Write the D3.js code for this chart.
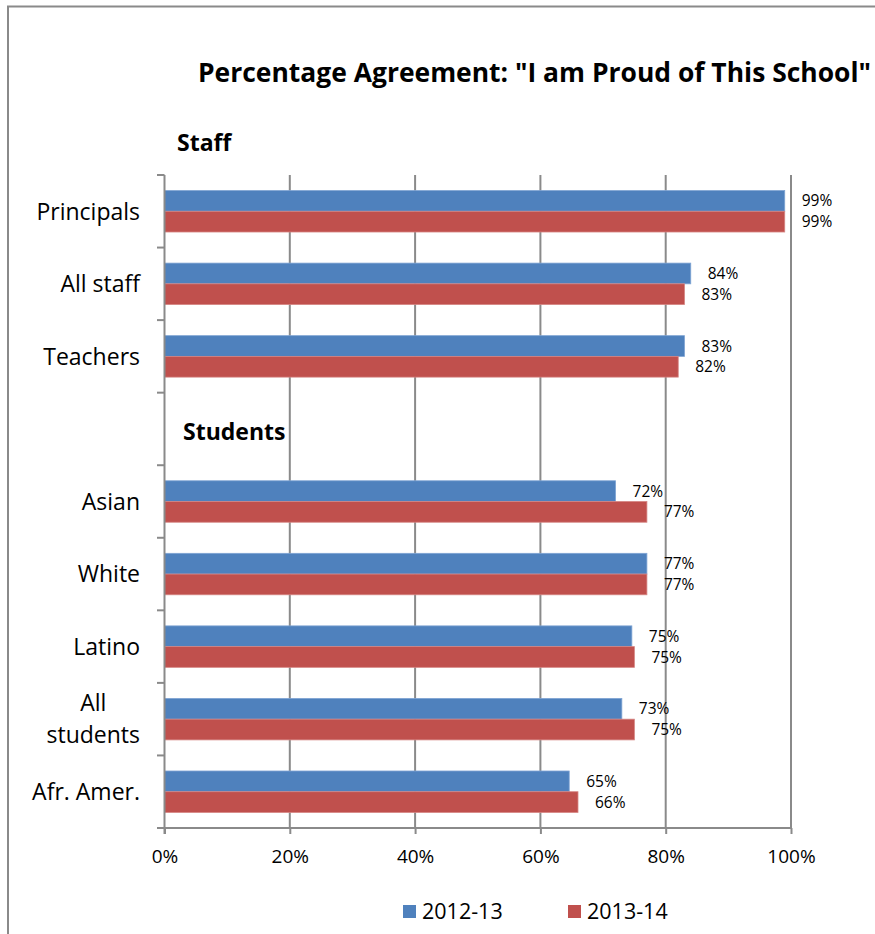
<!DOCTYPE html>
<html><head><meta charset="utf-8">
<script src="https://cdn.jsdelivr.net/npm/d3@7"></script>
<style>
body{margin:0;background:#fff}
svg{display:block}
text{font-family:"Open Sans",sans-serif;fill:#000}
</style>
</head><body>
<script>
// ---- data ----
const categories = ["Principals","All staff","Teachers","","Asian","White","Latino","All\nstudents","Afr. Amer."];
const series = ["2012-13","2013-14"];
const values2012 = [99,84,83,null,72,77,74.6,73,64.6];
const values2013 = [99,83,82,null,77,77,75,75,66];
const xTicks = [0,20,40,60,80,100];
const colors = ["#4F81BD","#C0504D"];
const strokes = ["#7FA4D3","#D58583"];
const titleText = 'Percentage Agreement: "I am Proud of This School"';
const groupLabels = [{text:"Staff", x:177, y:151},{text:"Students", x:183, y:440}];

const W = 875, H = 934;
const svg = d3.select("body").append("svg").attr("width",W).attr("height",H);

// border
svg.append("rect").attr("x",8).attr("y",6.5).attr("width",W+20).attr("height",H+20)
  .attr("fill","none").attr("stroke","#8a8a8a").attr("stroke-width",2);

// title
svg.append("text").attr("x",198).attr("y",82).attr("font-size",26).attr("font-weight","bold")
  .attr("textLength",673).attr("lengthAdjust","spacingAndGlyphs").text(titleText);

// scales
const x = d3.scaleLinear().domain([0,100]).range([164.5,791]);
const y = d3.scaleBand().domain(d3.range(categories.length)).range([175,828]).padding(0);
const sub = d3.scaleBand().domain(series).range([0,y.bandwidth()]).paddingInner(0).paddingOuter(0.75);
const gridColor = "#8a8a8a";

// gridlines
svg.append("g").selectAll("line").data(xTicks.filter(d=>d>0)).join("line")
  .attr("x1",d=>x(d)).attr("x2",d=>x(d)).attr("y1",175).attr("y2",828)
  .attr("stroke",gridColor).attr("stroke-width",2);

// bars
const rows = categories.map((c,i)=>({i, vals:[values2012[i],values2013[i]]}));
const g = svg.append("g");
rows.forEach(r=>{
  r.vals.forEach((v,k)=>{
    if(v==null) return;
    const yy = y(r.i)+sub(series[k]);
    g.append("rect").attr("x",x(0)).attr("y",yy).attr("width",x(v)-x(0)).attr("height",sub.bandwidth())
      .attr("fill",colors[k]).attr("stroke",strokes[k]).attr("stroke-width",0.8);
    g.append("text").attr("x",x(v)+17).attr("y",yy+sub.bandwidth()/2).attr("dy","0.36em")
      .attr("font-size",15.5).text(Math.round(v)+"%");
  });
});

// left axis line and boundary ticks
svg.append("line").attr("x1",x(0)).attr("x2",x(0)).attr("y1",175).attr("y2",834)
  .attr("stroke",gridColor).attr("stroke-width",2);
const bounds = d3.range(categories.length).map(i=>y(i)).concat([828]);
svg.append("g").selectAll("line").data(bounds).join("line")
  .attr("x1",157).attr("x2",x(0)).attr("y1",d=>d).attr("y2",d=>d)
  .attr("stroke",gridColor).attr("stroke-width",2);

// bottom axis
const xAxis = d3.axisBottom(x).tickValues(xTicks).tickFormat(d=>d+"%").tickSize(6).tickSizeOuter(0).tickPadding(16);
const ax = svg.append("g").attr("transform","translate(0,828)").call(xAxis);
ax.select(".domain").remove();
ax.selectAll(".tick line").attr("stroke",gridColor).attr("stroke-width",2);
ax.selectAll(".tick text").attr("font-size",19).attr("font-family","Open Sans").attr("fill","#000");
svg.append("line").attr("x1",157).attr("x2",x(100)).attr("y1",828).attr("y2",828)
  .attr("stroke",gridColor).attr("stroke-width",2);

// category labels
categories.forEach((c,i)=>{
  if(!c) return;
  const lines = c.split("\n");
  const cy = y(i)+y.bandwidth()/2;
  const lh = 32;
  const t = svg.append("text").attr("font-size",23);
  lines.forEach((ln,j)=>{
    t.append("tspan").attr("x",140).attr("y",cy+(j-(lines.length-1)/2)*lh).attr("dy","0.36em")
      .attr("text-anchor","end").text(ln);
  });
  if(lines.length>1){
    const ws = [];
    t.selectAll("tspan").each(function(){ws.push(this.getComputedTextLength());});
    const mw = d3.max(ws);
    t.selectAll("tspan").attr("text-anchor","middle").attr("x",140-mw/2);
  }
});

// group labels
groupLabels.forEach(gl=>{
  svg.append("text").attr("x",gl.x).attr("y",gl.y).attr("font-size",23).attr("font-weight","bold").text(gl.text);
});

// legend
const legX = [403,568];
series.forEach((s,k)=>{
  svg.append("rect").attr("x",legX[k]).attr("y",905).attr("width",13).attr("height",13).attr("fill",colors[k]);
  svg.append("text").attr("x",legX[k]+19).attr("y",911.5).attr("dy","0.36em").attr("font-size",21.5).text(s);
});
</script>
</body></html>
